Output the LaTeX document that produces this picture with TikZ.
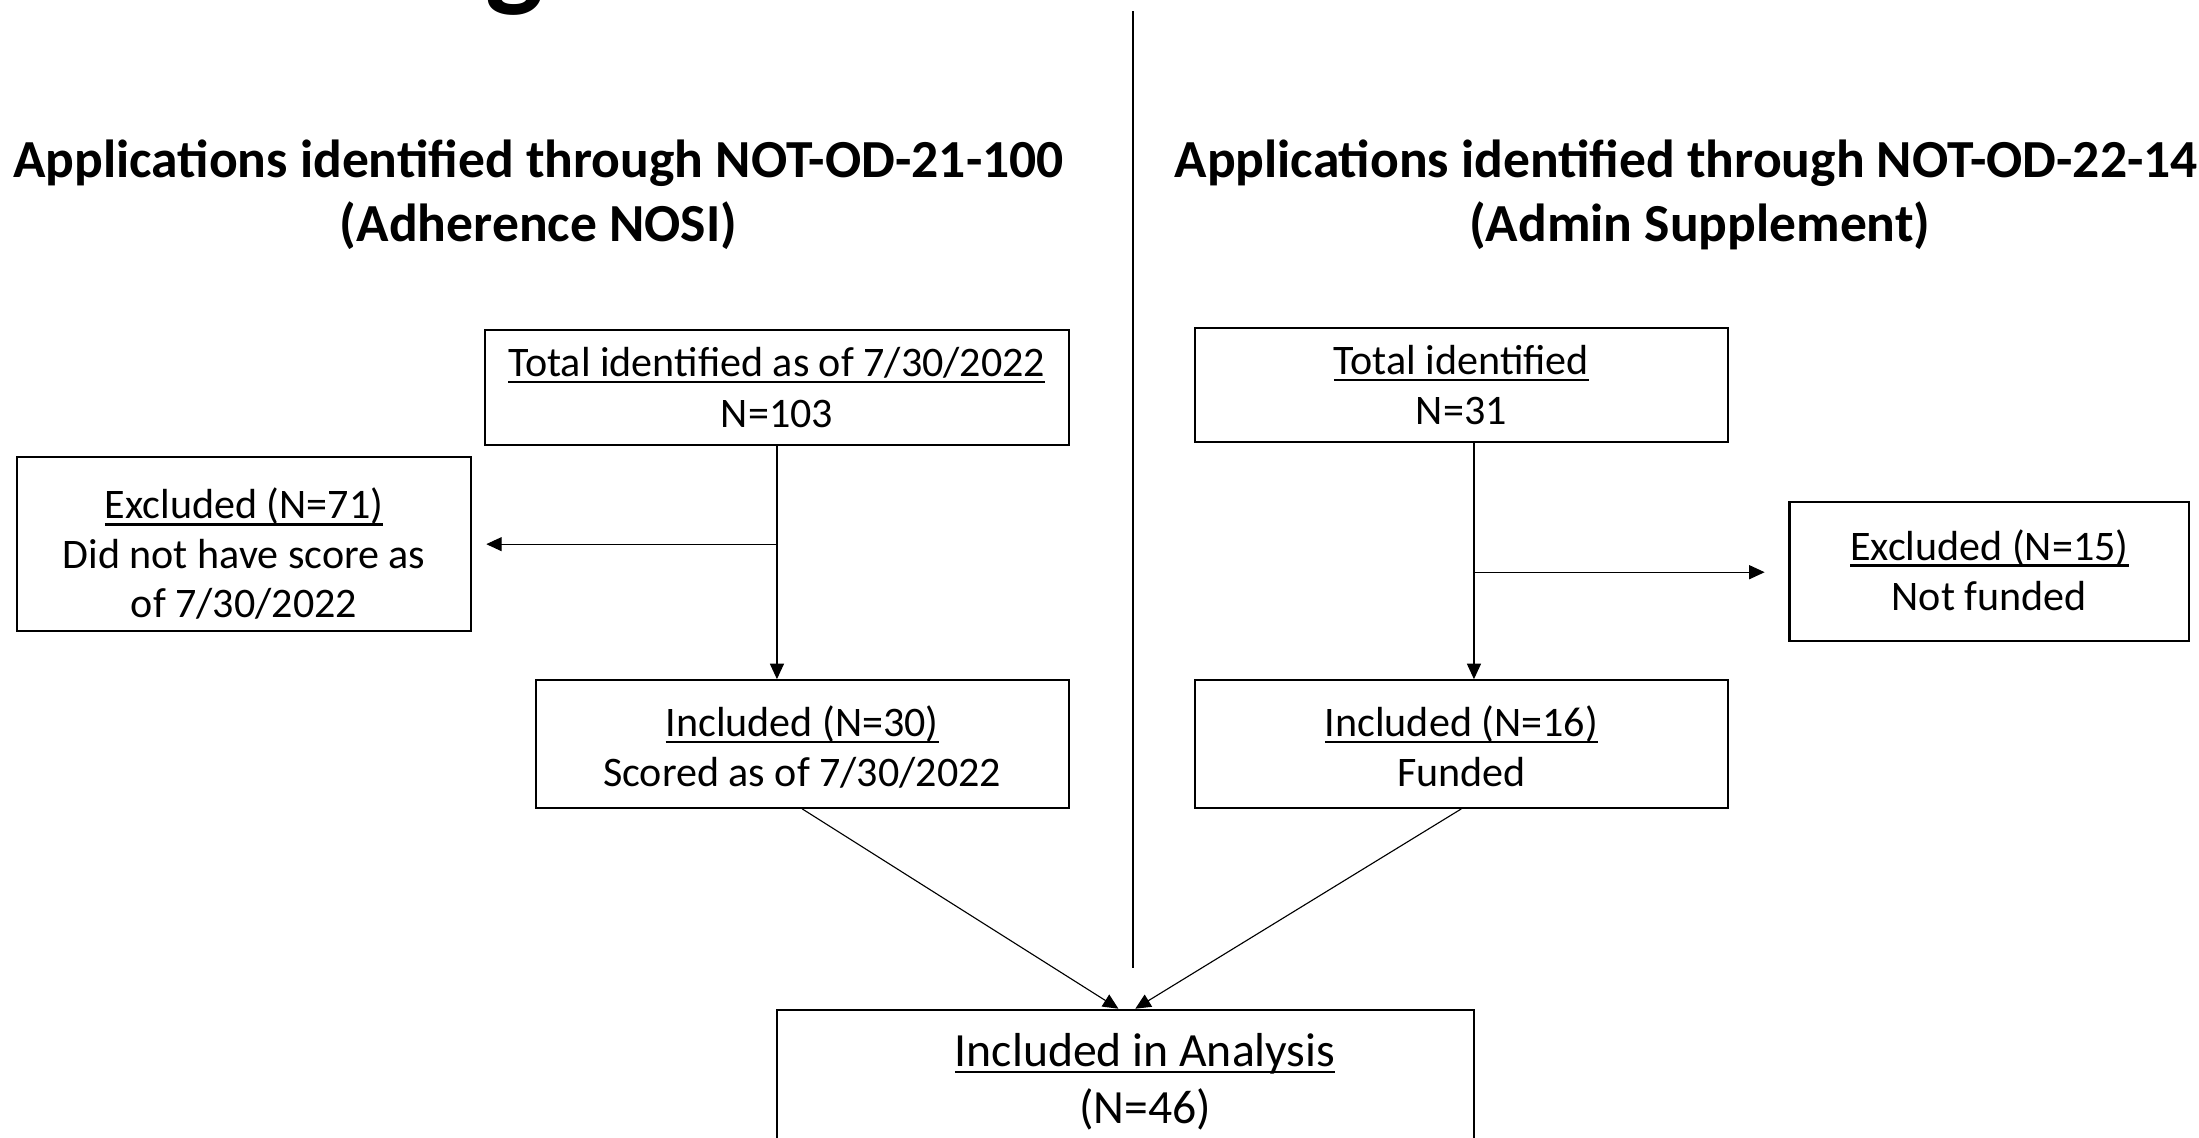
\documentclass[tikz,border=0pt]{standalone}
\usepackage{fontspec}
\setmainfont{Carlito}
\usetikzlibrary{arrows.meta,calc}
\newcommand\ulx[1]{\setbox0=\hbox{#1}\rlap{\rule[-2.4pt]{\wd0}{0.9pt}}\box0}
\newcommand\topst[1]{\rule{0pt}{#1}}
\newcommand\botst{\rule[-4pt]{0pt}{0pt}}
\begin{document}
\begin{tikzpicture}[x=0.5pt,y=-0.5pt,
  box/.style={draw, line width=0.75pt, inner sep=0pt, align=center, font=\fontsize{15}{18}\selectfont},
  txt/.style={inner sep=0pt, align=center, font=\fontsize{17}{20.5}\selectfont},
  ttl/.style={inner sep=0pt, align=center, font=\fontsize{19.1}{23}\bfseries\selectfont},
  arr/.style={line width=0.4pt, -{Triangle[length=5.5pt,width=5pt]}},
  sepline/.style={line width=0.5pt}]
\useasboundingbox (0,0) rectangle (1568,811);

% cut-off heading
\node[inner sep=0pt, anchor=base, font=\fontsize{44}{50}\bfseries\selectfont] (head) at (367,-4) {g};

% column titles
\node[ttl] (tl) at (384,139) {Applications identified through NOT-OD-21-100\\(Adherence NOSI)};
\node[ttl] (tr) at (1212,139) {Applications identified through NOT-OD-22-14\phantom{0}\\(Admin Supplement)};

% separator
\coordinate (s1) at (808,8);
\coordinate (s2) at (808,690);
\draw[sepline] (s1) -- (s2);

% left column
\node[box, minimum width=208pt, minimum height=41pt] (A) at (554,276)
  {\topst{14.5pt}\ulx{Total identified as of 7/30/2022}\\N=103\botst};
\node[box, minimum width=162pt, minimum height=62pt, font=\fontsize{15}{17.5}\selectfont] (B) at (174,388)
  {\topst{21pt}\ulx{Excluded (N=71)}\\Did not have score as\\of 7/30/2022\botst};
\node[box, minimum width=190pt, minimum height=45.5pt] (C) at (572,530.5)
  {\topst{16.5pt}\ulx{Included (N=30)}\\Scored as of 7/30/2022\botst};

% right column
\node[box, minimum width=190pt, minimum height=40.5pt] (D) at (1042,274.5)
  {\topst{14.5pt}\ulx{Total identified}\\N=31\botst};
\node[box, minimum width=142.5pt, minimum height=49.5pt] (E) at (1418.5,407.5)
  {\topst{14pt}\ulx{Excluded (N=15)}\\Not funded\botst};
\node[box, minimum width=190pt, minimum height=45.5pt] (F) at (1042,530.5)
  {\topst{16.5pt}\ulx{Included (N=16)}\\Funded\botst};

% bottom
\node[box, minimum width=248.5pt, minimum height=48pt] (G) at (802.5,768) {};
\node[txt] (Gt) at (816.5,771.5) {\ulx{Included in Analysis}\\(N=46)};

% left connectors
\coordinate (jA) at (554,388);
\draw[arr] (A.south) -- (A.south |- C.north);
\draw[arr, shorten >=5pt] (jA) -- (jA -| B.east);

% right connectors
\coordinate (dTop) at ($(D.south)+(9,0)$);
\coordinate (jD) at (1051,408);
\draw[arr] (dTop) -- (dTop |- F.north);
\draw[arr, shorten >=8.5pt] (jD) -- (jD -| E.west);

% merge
\draw[arr] (C.south) -- ($(G.north)+(-5,0)$);
\draw[arr] (F.south) -- ($(G.north)+(7,0)$);
\end{tikzpicture}
\end{document}
